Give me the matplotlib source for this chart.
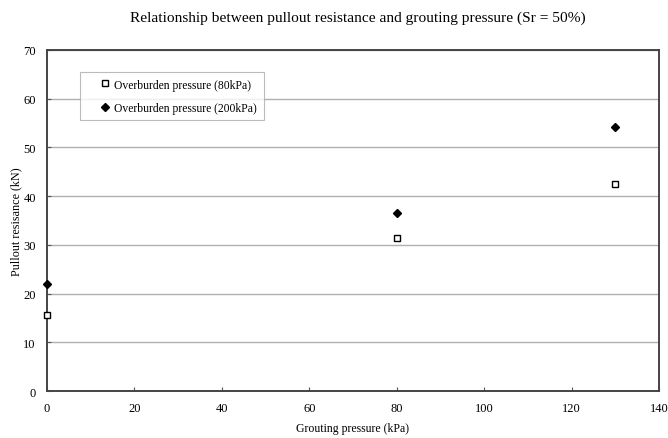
import matplotlib
matplotlib.use("Agg")
import matplotlib.pyplot as plt

plt.rcParams['font.family'] = ['Liberation Serif', 'DejaVu Serif']

grouting = [0, 80, 130]
res_80kpa = [15.5, 31.5, 42.5]
res_200kpa = [22.0, 36.5, 54.2]

fig = plt.figure(figsize=(6.68, 4.39), dpi=100)
ax = fig.add_axes([0.0704, 0.107, 0.916, 0.777])

ax.plot(grouting, res_80kpa, linestyle='none', marker='s', markersize=5,
        markerfacecolor='white', markeredgecolor='black', markeredgewidth=1.0,
        label='Overburden pressure (80kPa)', clip_on=False, zorder=3)
ax.plot(grouting, res_200kpa, linestyle='none', marker='D', markersize=3.6,
        color='black', label='Overburden pressure (200kPa)', clip_on=False, zorder=3)

ax.set_xlim(0, 140)
ax.set_ylim(0, 70)
ax.set_xticks(range(0, 141, 20))
ax.set_yticks(range(0, 71, 10))
ax.yaxis.grid(True, color='#b0b0b0', linewidth=1.0)
ax.set_axisbelow(True)
ax.tick_params(direction='in', length=3, labelsize=9, colors='#555555', labelcolor='black', pad=8)

for s in ax.spines.values():
    s.set_color('#444444')
    s.set_linewidth(1.4)

ax.set_xlabel('Grouting pressure (kPa)', fontsize=8.5, labelpad=6)
ax.set_ylabel('Pullout resisance (kN)', fontsize=8.7, labelpad=1)
fig.text(0.535, 0.958, 'Relationship between pullout resistance and grouting pressure (Sr = 50%)',
         fontsize=11.1, ha='center', va='center')

leg = ax.legend(loc='upper left', bbox_to_anchor=(0.054, 0.935), fontsize=8.4,
                frameon=True, fancybox=False, edgecolor='#aaaaaa',
                borderpad=0.55, handletextpad=-0.8, handlelength=3.2, labelspacing=0.95,
                borderaxespad=0)
leg.get_frame().set_linewidth(0.8)
# stretch frame to the wider box of the original
fig.canvas.draw()
bb = leg.get_frame().get_bbox()
leg.get_frame().set_width(bb.width + 22)

fig.savefig('out.png', dpi=100)
